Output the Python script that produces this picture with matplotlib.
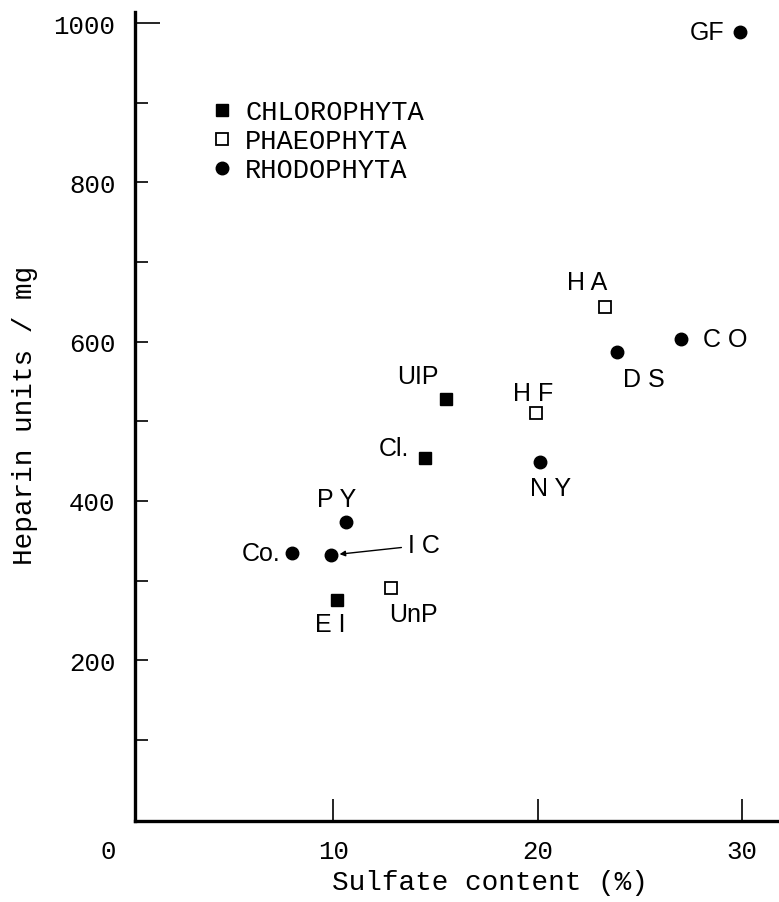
import matplotlib
matplotlib.use("Agg")
import matplotlib.pyplot as plt
from matplotlib.lines import Line2D

# data
chloro_names = ["UIP", "Cl.", "E I"]
chloro_x = [15.5, 14.5, 10.2]
chloro_y = [528, 454, 276]

phaeo_names = ["H A", "H F", "UnP"]
phaeo_x = [23.3, 19.9, 12.8]
phaeo_y = [643, 510, 291]

rhodo_names = ["GF", "C O", "D S", "N Y", "P Y", "Co.", "I C"]
rhodo_x = [29.9, 27.0, 23.9, 20.1, 10.6, 8.0, 9.9]
rhodo_y = [989, 603, 587, 449, 374, 335, 332]

groups = ["CHLOROPHYTA", "PHAEOPHYTA", "RHODOPHYTA"]
x_ticks = [10, 20, 30]
y_ticks = [200, 400, 600, 800, 1000]
y_minor = [100, 300, 500, 700, 900]

# label placement: (dx px, dy px downward, ha)
offs = {
    "GF": (-16, 0, "right"), "H A": (-18, -25, "center"), "C O": (22, 0, "left"),
    "D S": (26, 27, "center"), "UIP": (-28, -23, "center"), "H F": (-3, -20, "center"),
    "Cl.": (-16, -10, "right"), "N Y": (11, 26, "center"), "P Y": (-9, -23, "center"),
    "Co.": (-12, 0, "right"), "UnP": (23, 26, "center"), "E I": (-7, 24, "center"),
}

mono = "Liberation Mono"
sans = "Liberation Sans"

fig = plt.figure(figsize=(7.79, 9.03), dpi=100)
ax = fig.add_axes([135 / 779, 81 / 903, 644 / 779, 809 / 903])

ax.plot(chloro_x, chloro_y, "s", color="black", ms=8, ls="none")
ax.plot(phaeo_x, phaeo_y, "s", mfc="white", mec="black", mew=1.3, ms=9, ls="none")
ax.plot(rhodo_x, rhodo_y, "o", color="black", ms=9, ls="none")

for names, xs, ys in [(chloro_names, chloro_x, chloro_y),
                      (phaeo_names, phaeo_x, phaeo_y),
                      (rhodo_names, rhodo_x, rhodo_y)]:
    for n, x, y in zip(names, xs, ys):
        if n == "I C":
            ax.annotate(n, (x, y), xytext=(93 * 0.72, 10 * 0.72), textcoords="offset points",
                        ha="center", va="center", fontsize=18, family=sans,
                        arrowprops=dict(arrowstyle="-|>", color="black", lw=1,
                                        shrinkA=3, shrinkB=6, mutation_scale=8))
            continue
        dx, dy, ha = offs[n]
        ax.annotate(n, (x, y), xytext=(dx * 0.72, -dy * 0.72), textcoords="offset points",
                    ha=ha, va="center", fontsize=18, family=sans)

ax.set_xlim(0.3, 31.8)
ax.set_ylim(-2, 1014)
for s in ["top", "right"]:
    ax.spines[s].set_visible(False)
for s in ["left", "bottom"]:
    ax.spines[s].set_linewidth(2.4)

ax.set_xticks(x_ticks)
ax.set_xticklabels([str(t) for t in x_ticks], family=mono, fontsize=18.5)
ax.set_yticks(y_ticks)
ax.set_yticklabels([str(t) for t in y_ticks], family=mono, fontsize=18.5)
ax.set_yticks(y_minor, minor=True)
ax.tick_params(axis="x", direction="in", length=16, width=1.2, pad=13)
ax.tick_params(axis="y", which="both", direction="in", length=9, width=1.2, pad=14)
# top tick is drawn longer in the original
ax.yaxis.get_major_ticks()[-1].tick1line.set_markersize(18)
ax.text(-1.0, -0.037, "0", transform=ax.get_xaxis_transform(), ha="center", va="center",
        family=mono, fontsize=18.5, clip_on=False)

ax.set_xlabel("Sulfate content (%)", family=mono, fontsize=20, va="center")
ax.xaxis.set_label_coords(0.551, -0.075)
ax.set_ylabel("Heparin units / mg", family=mono, fontsize=20, va="center")
ax.yaxis.set_label_coords(-0.171, 0.503)

handles = [
    Line2D([], [], marker="s", color="black", ls="none", ms=8),
    Line2D([], [], marker="s", mfc="white", mec="black", mew=1.3, ls="none", ms=9),
    Line2D([], [], marker="o", color="black", ls="none", ms=9),
]
ax.legend(handles, groups, loc="upper left", bbox_to_anchor=(214 / 779, 1 - 100 / 903),
          bbox_transform=fig.transFigure, frameon=False, prop={"family": mono, "size": 19.5},
          handlelength=0.6, handletextpad=0.55, labelspacing=0.12, borderpad=0, borderaxespad=0)

fig.savefig("out.png", dpi=100)
